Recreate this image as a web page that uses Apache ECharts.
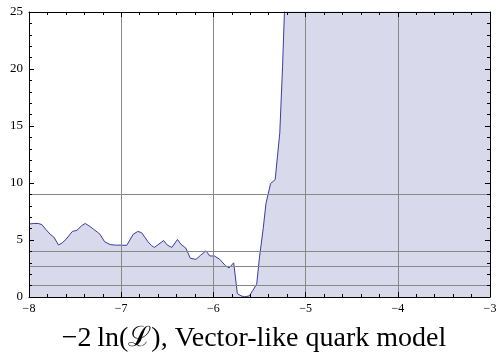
<!DOCTYPE html>
<html><head><meta charset="utf-8">
<script src="https://cdn.jsdelivr.net/npm/echarts@6/dist/echarts.min.js"></script>
<style>html,body{margin:0;padding:0;background:#fff}#c{width:500px;height:356px}</style>
</head><body><div id="c"></div>
<script>
const xs = [-8.00,-7.95,-7.90,-7.86,-7.82,-7.77,-7.73,-7.68,-7.64,-7.60,-7.56,-7.53,-7.48,-7.43,-7.39,-7.35,-7.30,-7.26,-7.23,-7.18,-7.12,-7.06,-7.00,-6.94,-6.92,-6.87,-6.82,-6.78,-6.74,-6.71,-6.67,-6.64,-6.59,-6.54,-6.50,-6.45,-6.39,-6.35,-6.30,-6.25,-6.19,-6.14,-6.08,-6.04,-5.99,-5.93,-5.87,-5.83,-5.78,-5.74,-5.70,-5.66,-5.61,-5.57,-5.53,-5.50,-5.46,-5.43,-5.38,-5.33,-5.28,-5.25,-5.23,-5.20,-5.00,-4.50,-4.00,-3.50,-3.00];
const ys = [6.40,6.45,6.45,6.35,5.95,5.50,5.25,4.56,4.75,5.05,5.45,5.75,5.85,6.25,6.45,6.25,5.95,5.70,5.50,4.85,4.60,4.55,4.55,4.53,4.40,5.50,5.75,5.65,5.20,4.85,4.50,4.35,4.65,4.95,4.55,4.35,5.05,4.60,4.30,3.40,3.30,3.65,4.05,3.60,3.60,3.30,2.75,2.55,3.00,0.30,0.10,0.02,0.10,0.60,1.15,3.50,6.00,8.20,9.95,10.30,14.40,20.20,24.90,32,45,60,70,75,80];
const hLevels = [1, 2.71, 4, 9];
const vLevels = [-7, -6, -5, -4];
const xTicks = [-8, -7, -6, -5, -4, -3];
const yTicks = [0, 5, 10, 15, 20, 25];
const titleText = '\u22122\u2009ln(\u2112), Vector-like quark model';

const serif = "'Liberation Serif','DejaVu Serif',serif";
const chart = echarts.init(document.getElementById('c'), null, {renderer:'canvas'});
function ax(extra){
  return Object.assign({
    type:'value',
    axisLine:{show:true, onZero:false, lineStyle:{color:'#000', width:1}},
    axisTick:{show:true, inside:true, length:5, lineStyle:{color:'#000', width:1}},
    minorTick:{show:true, splitNumber:5, length:3, lineStyle:{color:'#000', width:1}},
    splitLine:{show:false}, z:10
  }, extra);
}
chart.setOption({
  animation:false,
  grid:{left:29, right:10, top:12, bottom:59, containLabel:false},
  xAxis:[
    ax({min:xTicks[0], max:xTicks[xTicks.length-1], interval:1, position:'bottom',
      axisLabel:{fontFamily:serif, fontSize:12, color:'#000', margin:6, formatter:v=>String(v).replace('-','\u2212')}}),
    ax({min:xTicks[0], max:xTicks[xTicks.length-1], interval:1, position:'top', axisLabel:{show:false}})
  ],
  yAxis:[
    ax({min:yTicks[0], max:yTicks[yTicks.length-1], interval:5, position:'left',
      axisLabel:{fontFamily:serif, fontSize:13, color:'#000', margin:6}}),
    ax({min:yTicks[0], max:yTicks[yTicks.length-1], interval:5, position:'right', axisLabel:{show:false}})
  ],
  series:[
    {type:'line', xAxisIndex:0, yAxisIndex:0, data:xs.map((x,i)=>[x,ys[i]]), symbol:'none', clip:true, z:2,
      lineStyle:{color:'#3c3ca0', width:1}, areaStyle:{color:'#d9d9ec', opacity:1}},
    {type:'line', xAxisIndex:0, yAxisIndex:0, data:[], z:4,
      markLine:{silent:true, symbol:'none', animation:false, label:{show:false},
        lineStyle:{color:'#888', type:'solid', width:1},
        data: hLevels.map(v=>({yAxis:v})).concat(vLevels.map(v=>({xAxis:v})))}}
  ],
  graphic:[{type:'text', x:254, y:339, style:{text:titleText, font:"28px "+serif, fill:'#000', textAlign:'center', textVerticalAlign:'middle'}}]
});
</script></body></html>
